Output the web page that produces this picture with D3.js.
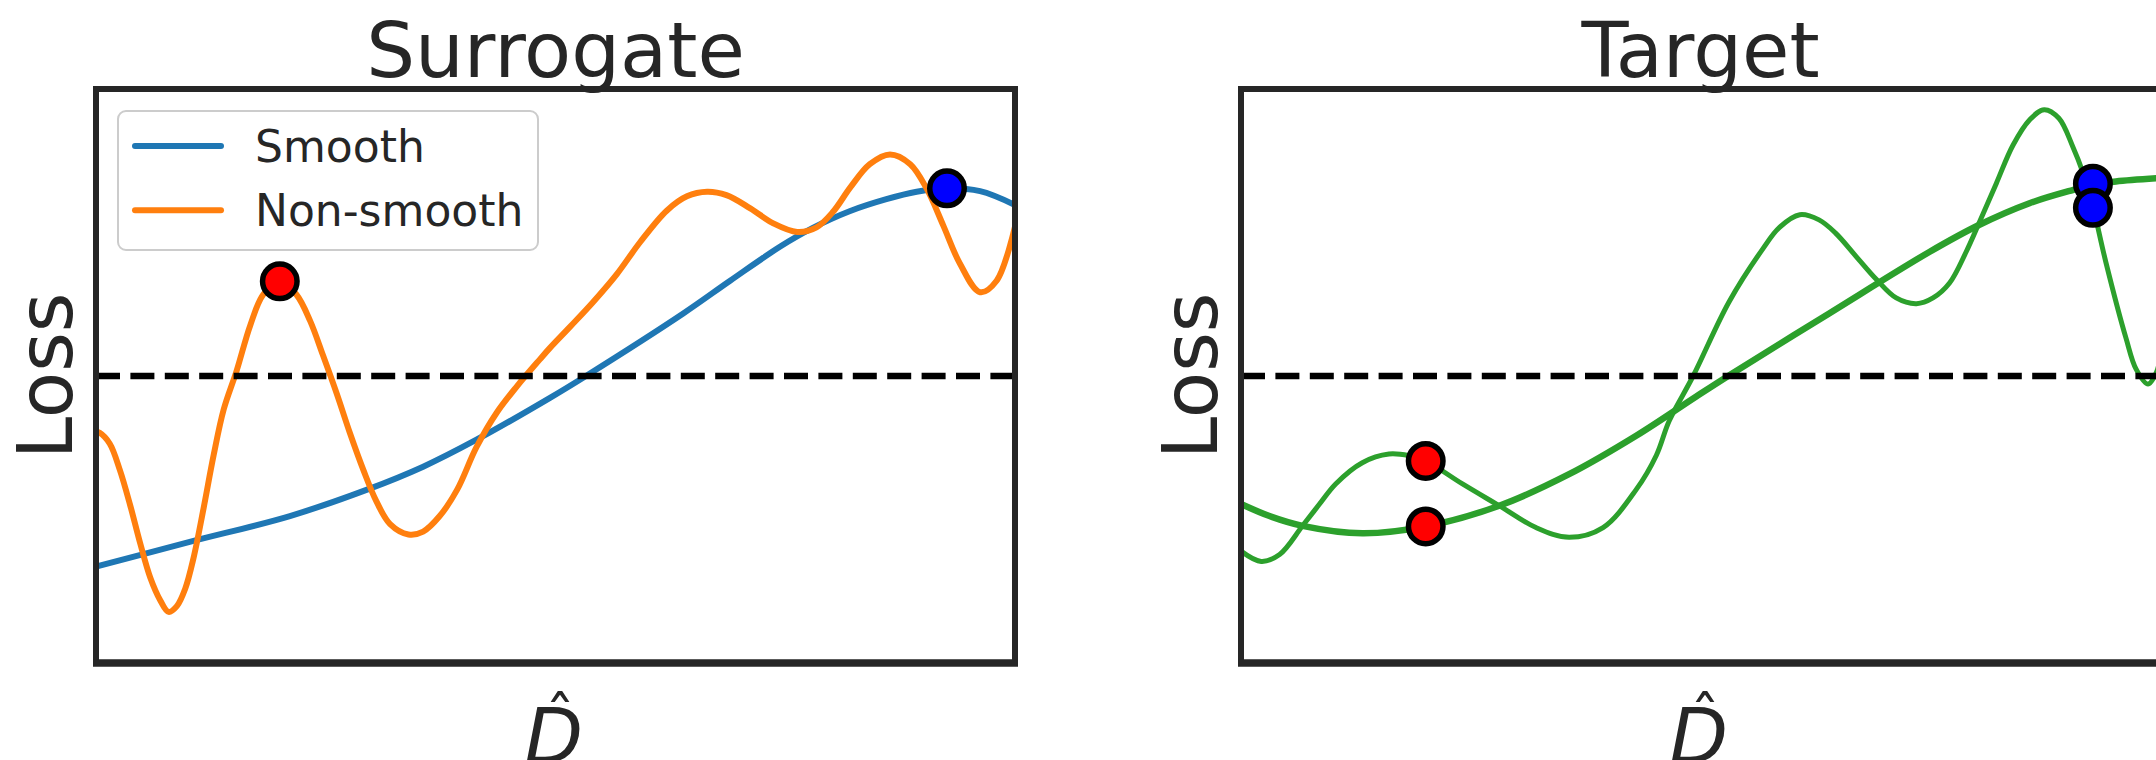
<!DOCTYPE html>
<html>
<head>
<meta charset="utf-8">
<script src="https://cdn.jsdelivr.net/npm/d3@7"></script>
<style>
body { margin: 0; background: #fff; }
svg { display: block; }
text { font-family: "DejaVu Sans", sans-serif; fill: #262626; }
</style>
</head>
<body>
<div id="chart"></div>
<script>
// values, as [D, loss]
var surrogateSmooth = [[0, 1.68], [1.02, 2.11], [2.11, 2.56], [2.95, 3.02], [3.56, 3.42], [4.14, 3.89],
    [4.94, 4.62], [5.34, 5.01], [6.39, 6.09], [6.9, 6.66], [7.45, 7.26], [7.8, 7.58], [8.2, 7.87],
    [8.6, 8.08], [8.93, 8.21], [9.26, 8.27], [9.62, 8.22], [10, 7.98]];

var surrogateRough = [[0, 4.03], [0.04, 4.01], [0.15, 3.82], [0.26, 3.36], [0.37, 2.76], [0.48, 2.09],
    [0.59, 1.49], [0.7, 1.09], [0.79, 0.89], [0.88, 0.99], [0.97, 1.29], [1.06, 1.82], [1.17, 2.69],
    [1.28, 3.62], [1.39, 4.42], [1.53, 5.09], [1.68, 5.89], [1.82, 6.42], [2.0, 6.65], [2.18, 6.42],
    [2.33, 5.96], [2.47, 5.36], [2.62, 4.69], [2.76, 4.02], [2.91, 3.36], [3.05, 2.82], [3.2, 2.42],
    [3.4, 2.24], [3.56, 2.29], [3.74, 2.56], [3.93, 3.02], [4.14, 3.76], [4.36, 4.36], [4.58, 4.82],
    [4.83, 5.29], [4.94, 5.49], [5.16, 5.86], [5.41, 6.29], [5.67, 6.78], [5.92, 7.33], [6.21, 7.88],
    [6.43, 8.13], [6.65, 8.21], [6.86, 8.15], [7.12, 7.92], [7.37, 7.66], [7.63, 7.51], [7.84, 7.59],
    [8.02, 7.86], [8.21, 8.29], [8.42, 8.69], [8.64, 8.86], [8.86, 8.69], [9.04, 8.26], [9.22, 7.62],
    [9.4, 6.96], [9.62, 6.46], [9.8, 6.66], [10, 7.6]];

var targetSmooth = [[0, 2.77], [0.31, 2.56], [0.67, 2.39], [1.32, 2.26], [2.01, 2.38], [2.81, 2.74],
    [3.57, 3.29], [4.3, 3.96], [4.95, 4.64], [5.31, 5.01], [6.4, 6.09], [7.49, 7.16], [8.03, 7.63],
    [8.58, 8.01], [9.05, 8.24], [9.27, 8.33], [9.52, 8.39], [10, 8.45]];

var targetRough = [[0, 1.95], [0.22, 1.77], [0.42, 1.89], [0.67, 2.39], [0.85, 2.76], [1.03, 3.12],
    [1.32, 3.49], [1.61, 3.64], [1.83, 3.61], [2.01, 3.52], [2.41, 3.12], [2.81, 2.74], [3.21, 2.36],
    [3.57, 2.19], [3.94, 2.36], [4.3, 3.02], [4.52, 3.62], [4.66, 4.22], [4.92, 5.0], [5.31, 6.29],
    [5.68, 7.22], [5.86, 7.59], [6.08, 7.81], [6.29, 7.72], [6.47, 7.49], [6.69, 7.09], [6.91, 6.69],
    [7.13, 6.36], [7.35, 6.26], [7.53, 6.36], [7.71, 6.62], [7.89, 7.16], [8.03, 7.66], [8.22, 8.36],
    [8.4, 9.02], [8.58, 9.46], [8.74, 9.64], [8.9, 9.49], [9.05, 9.0], [9.16, 8.55], [9.27, 7.95],
    [9.41, 6.99], [9.63, 5.66], [9.74, 5.12], [9.87, 4.86], [9.96, 5.06], [10, 5.3]];

var threshold = 5;

// marked points: [D, loss, colour]
var surrogateMarks = [[2.0, 6.65, "#ff0000"], [9.26, 8.27, "#0000ff"]];
var targetMarks = [[2.01, 2.38, "#ff0000"], [2.01, 3.52, "#ff0000"], [9.27, 8.35, "#0000ff"], [9.27, 7.93, "#0000ff"]];

var panelTitles = ["Surrogate", "Target"];
var legendLabels = ["Smooth", "Non-smooth"];

var svgWidth = 2156;
var svgHeight = 760;
var panelLeft = [96, 1241];
var panelTop = 89;
var width = 919;
var height = 574;

var svg = d3.select("#chart")
    .append("svg")
    .attr("width", svgWidth)
    .attr("height", svgHeight);

svg.append("rect")
    .attr("width", svgWidth)
    .attr("height", svgHeight)
    .attr("fill", "#fff");

var x = d3.scaleLinear().domain([0, 10]).range([0, width]);
var y = d3.scaleLinear().domain([0, 10]).range([height, 0]);

var line = d3.line()
    .x(d => x(d[0]))
    .y(d => y(d[1]))
    .curve(d3.curveCatmullRom.alpha(0.5));

var panels = [
    {title: panelTitles[0], lines: [[surrogateSmooth, "#1f77b4", 6], [surrogateRough, "#ff7f0e", 6]], marks: surrogateMarks},
    {title: panelTitles[1], lines: [[targetSmooth, "#2ca02c", 6.5], [targetRough, "#2ca02c", 5]], marks: targetMarks}
];

panels.forEach(function(p, i) {
    var g = svg.append("g")
        .attr("transform", `translate(${panelLeft[i]}, ${panelTop})`);

    g.append("clipPath")
        .attr("id", "clip" + i)
        .append("rect")
        .attr("width", width)
        .attr("height", height);

    var plot = g.append("g").attr("clip-path", `url(#clip${i})`);

    p.lines.forEach(function(l) {
        plot.append("path")
            .datum(l[0])
            .attr("d", line)
            .attr("fill", "none")
            .attr("stroke", l[1])
            .attr("stroke-width", l[2])
            .attr("stroke-linejoin", "round");
    });

    // threshold line
    plot.append("line")
        .attr("x1", x(0))
        .attr("x2", x(10))
        .attr("y1", y(threshold))
        .attr("y2", y(threshold))
        .attr("stroke", "#000")
        .attr("stroke-width", 6.5)
        .attr("stroke-dasharray", "24,10.4");

    g.selectAll("circle.mark")
        .data(p.marks)
        .enter()
        .append("circle")
        .attr("class", "mark")
        .attr("cx", d => x(d[0]))
        .attr("cy", d => y(d[1]))
        .attr("r", 17.25)
        .attr("fill", d => d[2])
        .attr("stroke", "#000")
        .attr("stroke-width", 5.5);

    // spines
    var sp = g.append("g").attr("stroke", "#262626");
    sp.append("line").attr("x1", 0).attr("x2", 0).attr("y1", -3).attr("y2", height + 3).attr("stroke-width", 6);
    sp.append("line").attr("x1", width).attr("x2", width).attr("y1", -3).attr("y2", height + 3).attr("stroke-width", 6);
    sp.append("line").attr("x1", -3).attr("x2", width + 3).attr("y1", 0).attr("y2", 0).attr("stroke-width", 6);
    sp.append("line").attr("x1", -3).attr("x2", width + 3).attr("y1", height).attr("y2", height).attr("stroke-width", 7.5);

    g.append("text")
        .attr("x", width / 2)
        .attr("y", -12)
        .attr("text-anchor", "middle")
        .attr("font-size", 77)
        .text(p.title);

    g.append("text")
        .attr("transform", `translate(-24, ${height / 2}) rotate(-90)`)
        .attr("text-anchor", "middle")
        .attr("font-size", 76)
        .text("Loss");

    // x label: D with a hat, one text element
    var xl = g.append("text")
        .attr("x", width / 2 - 31)
        .attr("y", 674)
        .attr("font-size", 76);
    xl.append("tspan")
        .attr("font-style", "oblique")
        .text("D");
    xl.append("tspan")
        .attr("dx", -38)
        .attr("dy", -24)
        .attr("font-size", 60)
        .text("\u02C6");

    if (i === 0) {
        var legend = g.append("g");
        legend.append("rect")
            .attr("x", 22)
            .attr("y", 22)
            .attr("width", 420)
            .attr("height", 139)
            .attr("rx", 8)
            .attr("fill", "#fff")
            .attr("fill-opacity", 0.8)
            .attr("stroke", "#cccccc")
            .attr("stroke-width", 2);
        legendLabels.forEach(function(lab, k) {
            var ly = 57 + k * 64.3;
            legend.append("line")
                .attr("x1", 39)
                .attr("x2", 125)
                .attr("y1", ly)
                .attr("y2", ly)
                .attr("stroke", p.lines[k][1])
                .attr("stroke-width", 6)
                .attr("stroke-linecap", "round");
            legend.append("text")
                .attr("x", 159)
                .attr("y", ly + 15.7)
                .attr("font-size", 44)
                .text(lab);
        });
    }
});
</script>
</body>
</html>
